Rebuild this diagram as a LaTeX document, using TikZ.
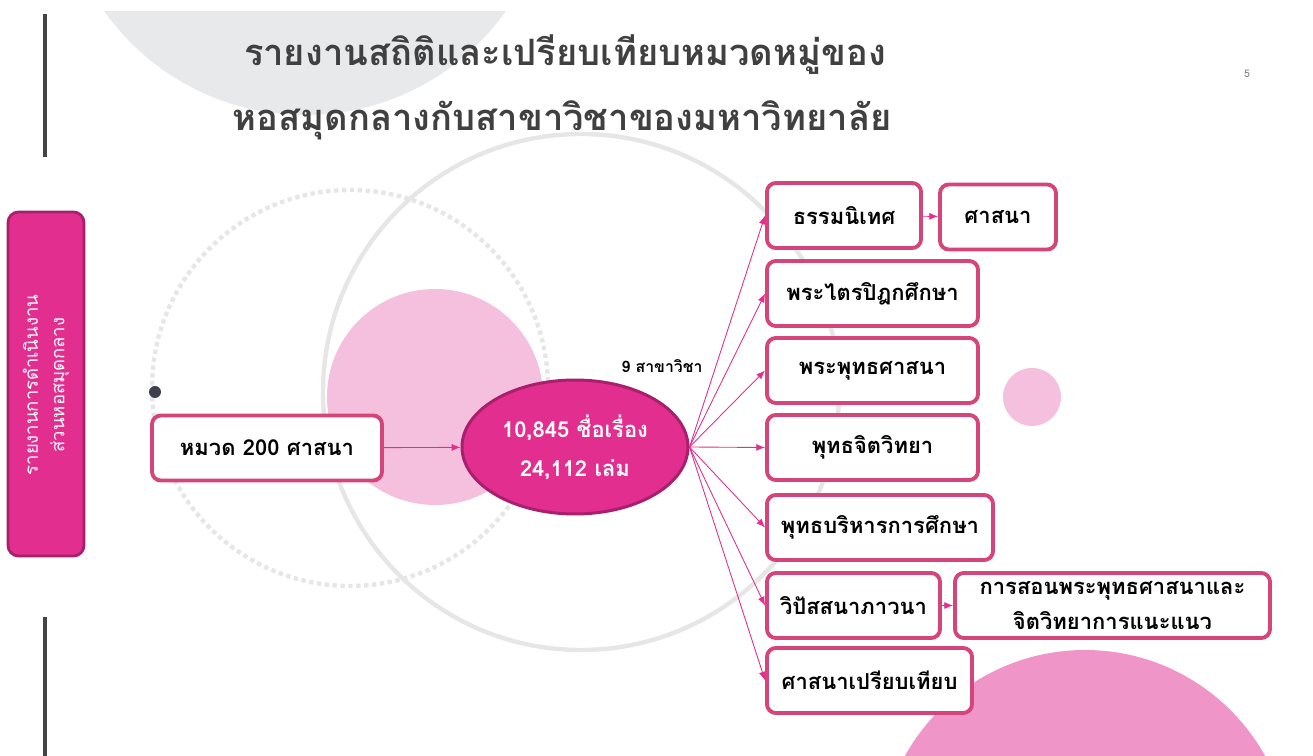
\documentclass[tikz,border=0pt]{standalone}
\usepackage{fontspec}
\setmainfont[Script=Thai]{Loma}
\usetikzlibrary{shapes.geometric,arrows.meta}
\definecolor{boxpink}{RGB}{214,69,122}
\definecolor{hotpink}{RGB}{226,46,143}
\definecolor{deeppink}{RGB}{168,32,108}
\definecolor{softpink}{RGB}{245,192,222}
\definecolor{bigpink}{RGB}{239,149,200}
\definecolor{ringgray}{RGB}{230,230,230}
\definecolor{capgray}{RGB}{232,233,235}
\definecolor{titlegray}{RGB}{64,64,64}
\definecolor{bargray}{RGB}{68,68,68}
\definecolor{dotgray}{RGB}{61,63,77}

\begin{document}
\begin{tikzpicture}[x=0.02cm,y=-0.02cm,
                sz/.style 2 args={minimum width=#1*0.02cm,minimum height=#2*0.02cm},
                catbox/.style={draw=boxpink,line width=2.2pt,fill=white,rounded corners=5pt,
                               inner sep=0pt,align=center,font=\bfseries\fontsize{12.5}{20}\selectfont},
                link/.style={draw=hotpink,line width=0.5pt,-{Latex[length=5pt,width=4pt]}}]
  \useasboundingbox (0,0) rectangle (1313,756);
  \clip (0,0) rectangle (1313,756);
  % background shapes
  \begin{scope}
    \clip (0,12) rectangle (1313,756);
    \fill[capgray] (305,-131) circle (246);
  \end{scope}
  \fill[bargray] (43,14) rectangle (47,157);
  \fill[bargray] (43,617) rectangle (47,756);
  \draw[ringgray,line width=2.5pt,dotted] (350,388) circle (198);
  \draw[ringgray,line width=2.5pt] (581,392) circle (258);
  \fill[softpink] (435,397) circle (108);
  \fill[softpink] (1032,397) circle (29);
  \fill[bigpink] (1085,856) circle (206);
  \fill[dotgray] (155,392) circle (6);
  % title
  \node[text=titlegray,font=\bfseries\fontsize{20.7}{24}\selectfont] (title1) at (565,55) {รายงานสถิติและเปรียบเทียบหมวดหมู่ของ};
  \node[text=titlegray,font=\bfseries\fontsize{20.7}{24}\selectfont] (title2) at (562,120) {หอสมุดกลางกับสาขาวิชาของมหาวิทยาลัย};
  \node[text=gray,font=\fontsize{6}{7}\selectfont] (page) at (1247,74) {5};
  % side bar
  \node[draw=deeppink,fill=hotpink,line width=1.6pt,rounded corners=6pt,sz={76}{344}] (side) at (46,384) {};
  \node[rotate=90,text=white,align=center,font=\fontsize{10.5}{15}\selectfont] (sidetext) at (46,385)
       {รายงานการดำเนินงาน\\ส่วนหอสมุดกลาง};
  % main nodes
  \node[catbox,sz={230}{65}] (cat) at (267,448) {หมวด 200 ศาสนา};
  \node[ellipse,draw=deeppink,fill=hotpink,line width=1.7pt,inner sep=0pt,sz={226}{134},
        text=white,align=center,font=\bfseries\fontsize{12.5}{22}\selectfont] (total) at (575,447)
       {10,845 ชื่อเรื่อง\\24,112 เล่ม};
  \node[font=\bfseries\fontsize{9}{11}\selectfont] (nine) at (662,366) {9 สาขาวิชา};
  % branches
  \node[catbox,sz={154}{65}] (b1) at (844,215.5) {ธรรมนิเทศ};
  \node[catbox,sz={116}{65}] (b1a) at (998,217) {ศาสนา};
  \node[catbox,sz={211}{65}] (b2) at (872.5,293.5) {พระไตรปิฎกศึกษา};
  \node[catbox,sz={211}{65}] (b3) at (872.5,370.5) {พระพุทธศาสนา};
  \node[catbox,sz={211}{65}] (b4) at (872.5,447.5) {พุทธจิตวิทยา};
  \node[catbox,sz={226}{65}] (b5) at (880,527.5) {พุทธบริหารการศึกษา};
  \node[catbox,sz={173}{65}] (b6) at (853.5,605.5) {วิปัสสนาภาวนา};
  \node[catbox,sz={315}{65}] (b6a) at (1112.5,605.5) {การสอนพระพุทธศาสนาและ\\จิตวิทยาการแนะแนว};
  \node[catbox,sz={205}{65}] (b7) at (869.5,680.5) {ศาสนาเปรียบเทียบ};
  % connectors
  \draw[link] (cat) -- (total);
  \foreach \b in {b1,b2,b3,b4,b5,b6,b7}
    \draw[link] (total.east) -- (\b.west);
  \draw[link] (b1) -- (b1a);
  \draw[link] (b6) -- (b6a);
\end{tikzpicture}
\end{document}
